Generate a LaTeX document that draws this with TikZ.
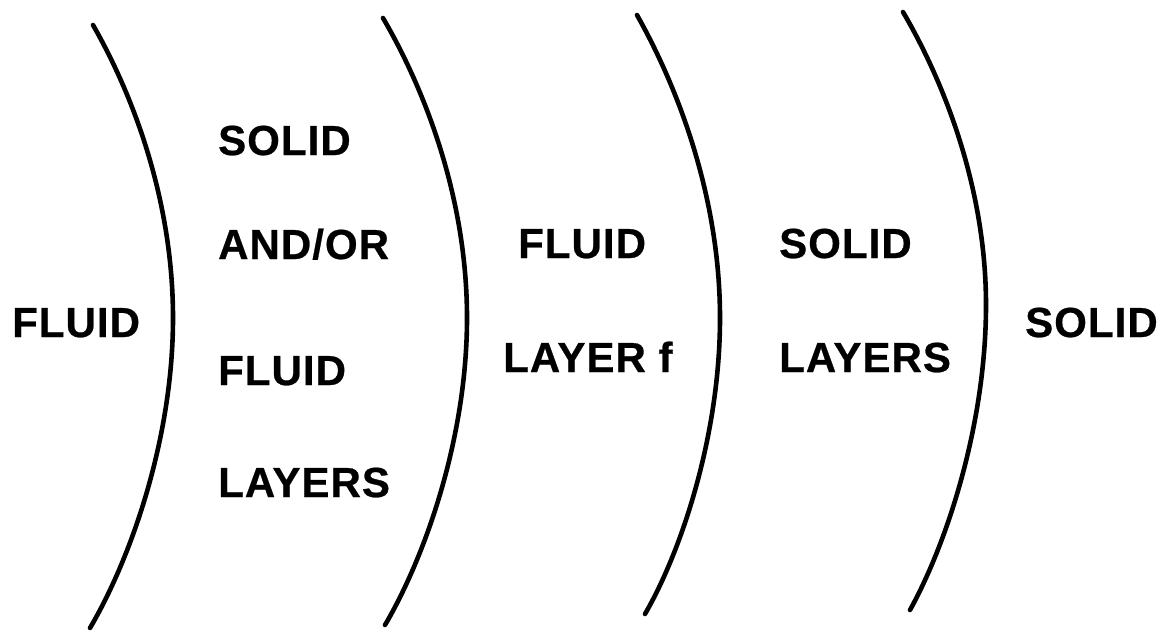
\documentclass[tikz,border=0pt]{standalone}
\usepackage{fontspec}
\setmainfont{Liberation Sans}
\newfontfamily\lblfont[LetterSpace=2.5,FakeBold=0.6]{Liberation Sans Bold}
\begin{document}
\begin{tikzpicture}[x=1pt,y=-1pt,
  lbl/.style={anchor=base west,inner sep=0pt,font=\lblfont\fontsize{42}{44}\selectfont},
  bound/.style={line width=4.6pt,line cap=round,line join=round}]
\useasboundingbox (0,0) rectangle (1167,632);
% boundaries
\draw[bound] (93,25) .. controls (133,95) and (173,200) .. (173,318)
                     .. controls (173,440) and (130,560) .. (90,628);
\draw[bound] (383,18) .. controls (425,90) and (467,198) .. (467,318)
                      .. controls (467,438) and (425,557) .. (385,625);
\draw[bound] (637,15) .. controls (678,88) and (720,197) .. (720,318)
                      .. controls (720,434) and (682,550) .. (645,614);
\draw[bound] (903,12) .. controls (944,82) and (986,188) .. (986,305)
                      .. controls (986,424) and (947,543) .. (910,610);
% labels
\node[lbl] (fl0) at (12,337) {FLUID};
\node[lbl] (s1) at (218,155) {SOLID};
\node[lbl] (ao) at (218,259) {AND/OR};
\node[lbl] (fl1) at (218,385) {FLUID};
\node[lbl] (ly1) at (218,497) {LAYERS};
\node[lbl] (fl2) at (518,258) {FLUID};
\node[lbl] (ly2) at (503,372) {LAYER f};
\node[lbl] (s3) at (779,258) {SOLID};
\node[lbl] (ly3) at (779,372) {LAYERS};
\node[lbl] (s4) at (1025,337) {SOLID};
\end{tikzpicture}
\end{document}
